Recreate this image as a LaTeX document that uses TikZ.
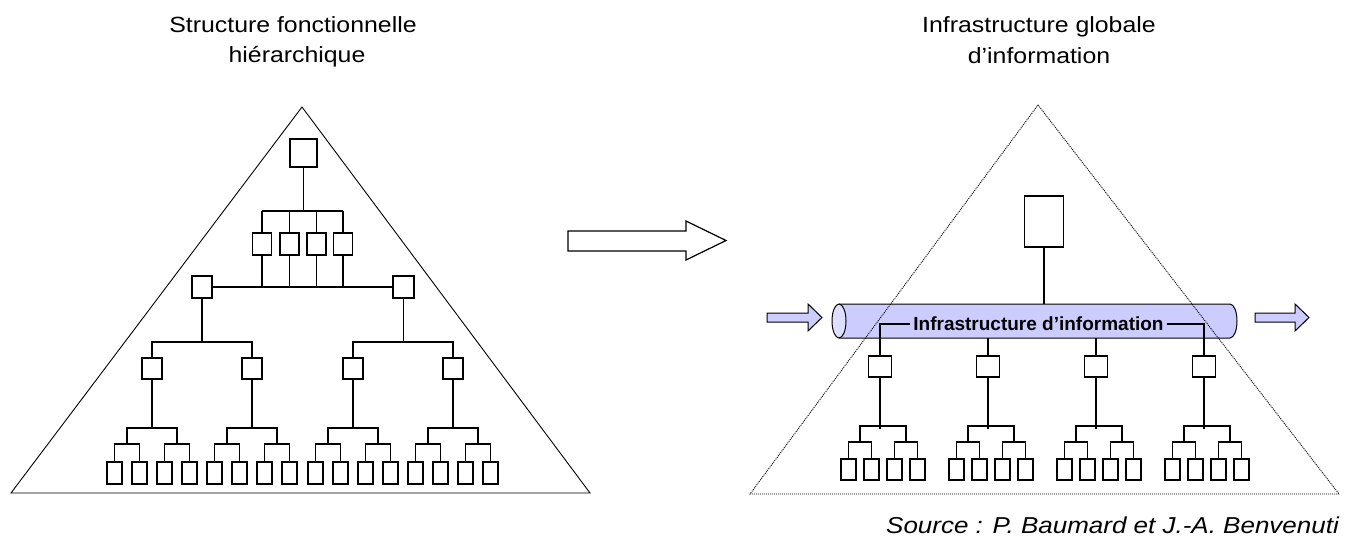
\documentclass[tikz,border=0pt]{standalone}
\usepackage{fontspec}
\setmainfont{Liberation Sans}
\definecolor{pipe}{HTML}{CCCCFF}
\definecolor{pipeend}{HTML}{DEDEFF}
\tikzset{
  lbox/.style={draw, fill=white, line width=1.3pt, inner sep=0pt},
  lleaf/.style={lbox, minimum width=15pt, minimum height=22pt},
  ltree/.style={line width=1.2pt},
  rbox/.style={draw, fill=white, line width=1.5pt, inner sep=0pt, minimum width=23pt, minimum height=21pt},
  rleaf/.style={draw, fill=white, line width=1.7pt, inner sep=0pt, minimum width=15pt, minimum height=21pt},
  rtree/.style={line width=1.4pt},
  rtreeb/.style={line width=1.9pt},
  title/.style={anchor=base, inner sep=0pt, font=\fontsize{22}{26}\selectfont, xscale=1.13},
  blockarrow/.style={draw, line width=1pt, line join=miter},
}
\begin{document}
\begin{tikzpicture}[x=1pt, y=-1pt]
\useasboundingbox (0,0) rectangle (1349,546);

% ---------------- titles
\node[title] (t1a) at (293,32) {Structure fonctionnelle};
\node[title] (t1b) at (297,62) {hiérarchique};
\node[title] (t2a) at (1039,32) {Infrastructure globale};
\node[title] (t2b) at (1039,63) {d’information};

% ---------------- left pyramid
\draw[line width=0.9pt] (302,107) -- (590,493) -- (11,493) -- cycle;

\node[lbox, minimum width=27pt, minimum height=28pt] (T) at (303.5,153) {};
\coordinate (busA) at (303.5,211);
\foreach \x [count=\i] in {262,289.5,316.5,343} {
  \node[lbox, minimum width=19pt, minimum height=22pt] (M\i) at (\x,244) {};
}
\node[lbox, minimum width=20pt, minimum height=22pt] (A1) at (202,287) {};
\node[lbox, minimum width=21pt, minimum height=22pt] (A2) at (403.5,287) {};
\draw[ltree] (T.south) -- (busA);
\draw[ltree] (M1.north |- busA) -- (M4.north |- busA);
\draw[ltree] (A1.east) -- (A2.west);
\foreach \i in {1,...,4} {
  \draw[ltree] (M\i.north |- busA) -- (M\i.north);
  \draw[ltree] (M\i.south) -- (M\i.south |- A1.east);
}

\foreach \c [count=\i] in {152,252,353,453} {
  \node[lbox, minimum width=20pt, minimum height=21pt] (B\i) at (\c,368.5) {};
  \foreach \d [count=\j] in {-37.5,-12.5,12.5,37.5} {
    \node[lleaf] (F\i-\j) at ({\c+\d},473) {};
  }
  \draw[ltree] (B\i.south) -- (\c,428);
  \draw[ltree] ({\c-25},444) -- ({\c-25},428) -- ({\c+25},428) -- ({\c+25},444);
  \draw[ltree] (F\i-1.north) |- ({\c-25},444) -| (F\i-2.north);
  \draw[ltree] (F\i-3.north) |- ({\c+25},444) -| (F\i-4.north);
}
\coordinate (a1b) at (202,342);
\coordinate (a2b) at (403.5,342);
\draw[ltree] (A1.south) -- (a1b);
\draw[ltree] (A2.south) -- (a2b);
\draw[ltree] (B1.north) |- (a1b) -| (B2.north);
\draw[ltree] (B3.north) |- (a2b) -| (B4.north);

% ---------------- middle arrow
\draw[blockarrow, line width=1.2pt, fill=white]
  (568,231) -- (686,231) -- (686,221) -- (726,240.5) -- (686,260) -- (686,251) -- (568,251) -- cycle;

% ---------------- right side: pipe
\draw[blockarrow, fill=pipe]
  (767,313) -- (808,313) -- (808,304) -- (822,317.5) -- (808,331) -- (808,322) -- (767,322) -- cycle;
\draw[blockarrow, fill=pipe]
  (1255,313) -- (1295,313) -- (1295,304) -- (1309,317.5) -- (1295,331) -- (1295,322) -- (1255,322) -- cycle;

\fill[pipe] (839,304) -- (1230,304) arc[start angle=-90, end angle=90, x radius=7, y radius=17] -- (839,338) -- cycle;
\draw[line width=1pt] (839,304) -- (1230,304) arc[start angle=-90, end angle=90, x radius=7, y radius=17] -- (839,338);
\draw[line width=1pt, fill=pipeend] (839,321) ellipse [x radius=7, y radius=17];
\coordinate (ctop) at (1044,304);
\coordinate (cbot) at (1044,338);

\node[inner sep=0pt, anchor=base, font=\bfseries\fontsize{19}{22}\selectfont] (lbl) at (1038.5,330.7) {Infrastructure d’information};

% top box
\node[rbox, line width=1.2pt, minimum width=39pt, minimum height=51pt] (TB) at (1044,221.5) {};
\draw[rtree] (TB.south) -- (ctop);

% boxes under pipe and subtrees
\foreach \c [count=\i] in {880,988,1096,1204} {
  \node[rbox] (R\i) at (\c,366.5) {};
  \foreach \d [count=\j] in {-31.5,-8.5,14.5,37.5} {
    \node[rleaf] (G\i-\j) at ({\c+\d},469.5) {};
  }
  \draw[rtree] (R\i.south) -- (\c,429);
  \draw[rtreeb] ({\c-20},442) -- ({\c-20},426) -- ({\c+26},426) -- ({\c+26},442);
  \draw[rtreeb] (G\i-1.north) |- ({\c-20},442) -| (G\i-2.north);
  \draw[rtreeb] (G\i-3.north) |- ({\c+26},442) -| (G\i-4.north);
}
\draw[rtree] ([xshift=-3pt]lbl.west) -| (R1.north);
\draw[rtree] ([xshift=3pt]lbl.east) -| (R4.north);
\draw[rtree] (R2.north) -- (R2.north |- cbot);
\draw[rtree] (R3.north) -- (R3.north |- cbot);

% dotted pyramid
\draw[line width=0.9pt, dash pattern=on 1pt off 1pt] (1038,105) -- (1339,494) -- (750,494) -- cycle;

% ---------------- source
\node[anchor=base, inner sep=0pt, font=\itshape\fontsize{23}{27}\selectfont, xscale=1.13] (src) at (1112.5,533) {Source : P. Baumard et J.-A. Benvenuti};
\end{tikzpicture}
\end{document}
